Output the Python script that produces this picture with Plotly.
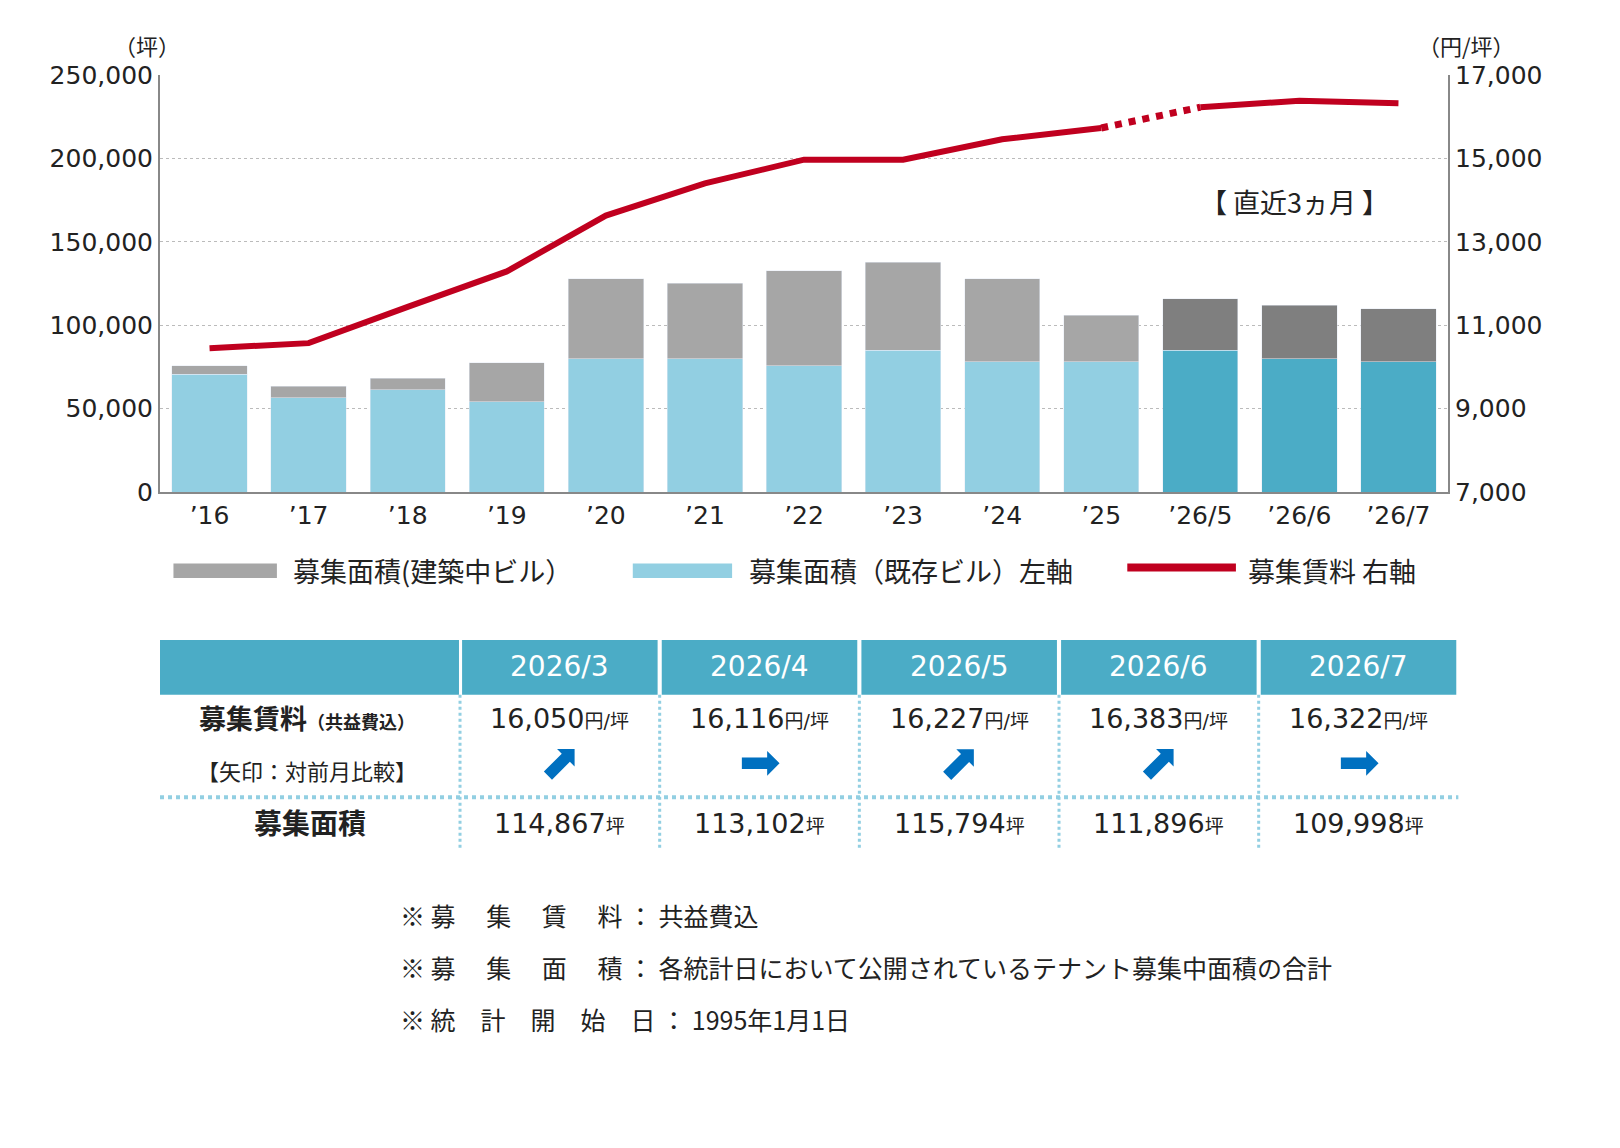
import plotly.graph_objects as go

years = ["’16", "’17", "’18", "’19", "’20", "’21", "’22", "’23", "’24", "’25", "’26/5", "’26/6", "’26/7"]
existing = [70700, 56400, 61400, 54000, 80000, 80000, 75700, 85000, 78200, 78200, 85000, 80000, 78200]
total = [75700, 63300, 68200, 77500, 127800, 125300, 132700, 137700, 127800, 106100, 115794, 111896, 109998]
construction = [t - e for t, e in zip(total, existing)]
rent = [10450, 10570, 11440, 12290, 13630, 14400, 14970, 14970, 15460, 15730, 16227, 16383, 16322]

legend_names = ["募集面積(建築中ビル）", "募集面積（既存ビル）左軸", "募集賃料 右軸"]

tbl_months = ["2026/3", "2026/4", "2026/5", "2026/6", "2026/7"]
tbl_rent = ["16,050", "16,116", "16,227", "16,383", "16,322"]
tbl_area = ["114,867", "113,102", "115,794", "111,896", "109,998"]
tbl_arrow_angle = [-45, 0, -45, -45, 0]

notes = [
    "※ 募　 集　 賃　 料 ： 共益費込",
    "※ 募　 集　 面　 積 ： 各統計日において公開されているテナント募集中面積の合計",
    "※ 統　計　開　始　日 ： 1995年1月1日",
]

FONT = "DejaVu Sans, Noto Sans CJK JP"
JP = "Noto Sans CJK JP"
S = 0.967  # screenshot scale


def rx(p):
    return (p - 8) / S


def ry(p):
    return (p - 6) / S


LEFT, RIGHT, TOP, BOT = rx(155), rx(1400), ry(71), ry(474)


def px(p):
    return (rx(p) - LEFT) / (RIGHT - LEFT)


def py(p):
    return (BOT - ry(p)) / (BOT - TOP)


n_hist = 10
gray = ["#a6a6a6"] * n_hist + ["#7f7f7f"] * 3
blue = ["#92cfe2"] * n_hist + ["#4bacc6"] * 3

fig = go.Figure()
fig.add_bar(x=years, y=existing, marker_color=blue, name=legend_names[1])
fig.add_bar(x=years, y=construction, marker_color=gray, name=legend_names[0])
fig.add_scatter(x=years[:n_hist], y=rent[:n_hist], yaxis="y2", mode="lines",
                line=dict(color="#c0001f", width=6), name=legend_names[2])
fig.add_scatter(x=years[n_hist - 1:n_hist + 1], y=rent[n_hist - 1:n_hist + 1], yaxis="y2", mode="lines",
                line=dict(color="#c0001f", width=7, dash="dot"))
fig.add_scatter(x=years[n_hist:], y=rent[n_hist:], yaxis="y2", mode="lines",
                line=dict(color="#c0001f", width=6))

fig.update_layout(
    width=1620, height=1148, barmode="stack", bargap=0.24, showlegend=False,
    plot_bgcolor="white", paper_bgcolor="white",
    margin=dict(l=LEFT, r=1620 - RIGHT, t=TOP, b=1148 - BOT),
    font=dict(family=FONT, size=24, color="#222"),
    xaxis=dict(showline=True, linecolor="#888", linewidth=2, ticks="", tickfont=dict(size=25)),
    yaxis=dict(range=[0, 250000], dtick=50000, tickformat=",", showgrid=True,
               gridcolor="#bbb", griddash="dot", showline=True, linecolor="#888", linewidth=2,
               tickfont=dict(size=25), zeroline=False, automargin=False),
    yaxis2=dict(range=[7000, 17000], tickvals=[7000, 9000, 11000, 13000, 15000, 17000],
                tickformat=",", overlaying="y", side="right", showline=True,
                linecolor="#888", linewidth=2, showgrid=False, tickfont=dict(size=25), automargin=False),
)

ann = []
shapes = []


def text(x, y, t, size, color="#222", xa="center", **kw):
    ann.append(dict(x=px(x), y=py(y), text=t, showarrow=False, xanchor=xa, yanchor="middle",
                    font=dict(size=size, color=color, family=kw.pop("family", FONT)), **kw))


def rect(x0, x1, y0, y1, color):
    shapes.append(dict(type="rect", xref="paper", yref="paper", x0=px(x0), x1=px(x1),
                       y0=py(y0), y1=py(y1), fillcolor=color, line_width=0))


def line(x0, x1, y0, y1, color, width, dash="solid"):
    shapes.append(dict(type="line", xref="paper", yref="paper", x0=px(x0), x1=px(x1),
                       y0=py(y0), y1=py(y1), line=dict(color=color, width=width, dash=dash)))


text(142, 42, "（坪）", 22, family=JP)
text(1418, 42, "（円/坪）", 22, family=JP)
text(1252, 193, "【 直近3ヵ月 】", 27, family=JP)

# legend
rect(168, 268, 543, 557, "#a6a6a6")
text(282, 550, legend_names[0], 27, xa="left", family=JP)
rect(612, 708, 543, 557, "#92cfe2")
text(722, 550, legend_names[1], 27, xa="left", family=JP)
line(1090, 1195, 547, 547, "#c0001f", 8)
text(1205, 550, legend_names[2], 27, xa="left", family=JP)

# table
cols = [(447, 636), (640, 829), (833, 1022), (1026, 1215), (1219, 1408)]
rect(155, 444, 617, 670, "#4bacc6")
for i, (a, b) in enumerate(cols):
    rect(a, b, 617, 670, "#4bacc6")
    cx = (a + b) / 2
    text(cx, 643, tbl_months[i], 28, color="white")
    text(cx, 693, tbl_rent[i] + "<span style='font-size:19px'>円/坪</span>", 27)
    text(cx, 735, "➡", 50, color="#0070c0", textangle=tbl_arrow_angle[i])
    text(cx, 794, tbl_area[i] + "<span style='font-size:19px'>坪</span>", 27)
    line(a - 2, a - 2, 670, 820, "#92cfe2", 3, "dot")
line(155, 1410, 769, 769, "#92cfe2", 4, "dot")
text(297, 692, "<b>募集賃料</b><b><span style='font-size:18px'>（共益費込）</span></b>", 27, family=JP)
text(297, 743, "【矢印：対前月比較】", 22, family=JP)
text(300, 793, "<b>募集面積</b>", 28, family=JP)

for i, t in enumerate(notes):
    text(385, 883 + 50 * i, t, 25, xa="left", family=JP)

for a in ann:
    a["xref"] = "paper"
    a["yref"] = "paper"
fig.update_layout(annotations=ann, shapes=shapes)

fig.write_html("out.html")
